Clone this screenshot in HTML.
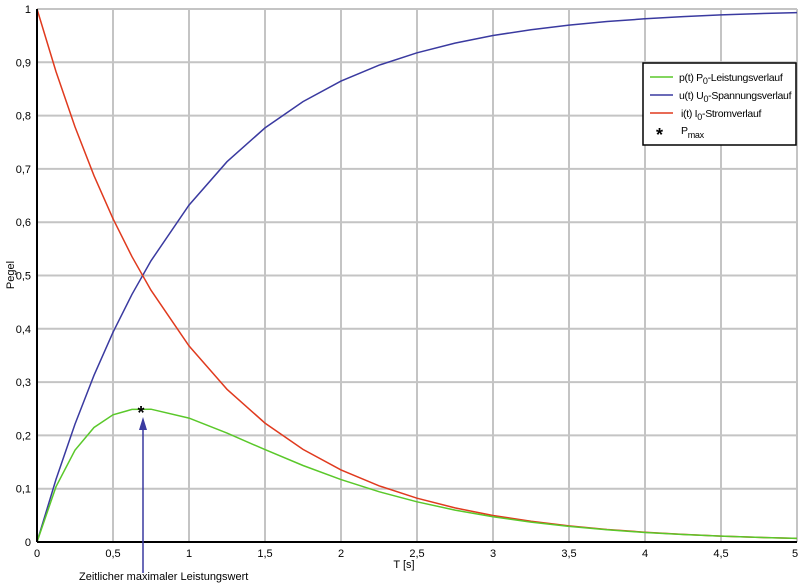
<!DOCTYPE html>
<html><head><meta charset="utf-8"><style>
html,body{margin:0;padding:0;background:#fff}
svg{display:block;font-family:"Liberation Sans",sans-serif}
</style></head><body>
<svg width="800" height="586" xmlns="http://www.w3.org/2000/svg">
<g stroke="#c4c4c4" stroke-width="2">
<line x1="113" y1="9" x2="113" y2="542"/><line x1="189" y1="9" x2="189" y2="542"/><line x1="265" y1="9" x2="265" y2="542"/><line x1="341" y1="9" x2="341" y2="542"/><line x1="417" y1="9" x2="417" y2="542"/><line x1="493" y1="9" x2="493" y2="542"/><line x1="569" y1="9" x2="569" y2="542"/><line x1="645" y1="9" x2="645" y2="542"/><line x1="721" y1="9" x2="721" y2="542"/><line x1="797" y1="9" x2="797" y2="542"/>
<line x1="37" y1="488.7" x2="797" y2="488.7"/><line x1="37" y1="435.4" x2="797" y2="435.4"/><line x1="37" y1="382.1" x2="797" y2="382.1"/><line x1="37" y1="328.8" x2="797" y2="328.8"/><line x1="37" y1="275.5" x2="797" y2="275.5"/><line x1="37" y1="222.2" x2="797" y2="222.2"/><line x1="37" y1="168.9" x2="797" y2="168.9"/><line x1="37" y1="115.6" x2="797" y2="115.6"/><line x1="37" y1="62.3" x2="797" y2="62.3"/><line x1="37" y1="9" x2="797" y2="9"/>
</g>
<g fill="none" stroke-width="1.5">
<path stroke="#3a3aa0" d="M37 542L56 479.4L75 424.1L94 375.3L113 332.3L132 294.3L151 260.8L189 205.1L227 161.7L265 127.9L303 101.6L341 81.1L379 65.2L417 52.8L455 43.1L493 35.5L531 29.7L569 25.1L607 21.5L645 18.8L683 16.6L721 14.9L759 13.6L797 12.6"/>
<path stroke="#e03a1e" d="M37 9L56 71.6L75 126.9L94 175.7L113 218.7L132 256.7L151 290.2L189 345.9L227 389.3L265 423.1L303 449.4L341 469.9L379 485.8L417 498.2L455 507.9L493 515.5L531 521.3L569 525.9L607 529.5L645 532.2L683 534.4L721 536.1L759 537.4L797 538.4"/>
<path stroke="#5ac82a" d="M37 542L56 486.7L75 450.2L94 427.5L113 414.8L132 409.4L151 409.2L189 418.1L227 433.1L265 449.6L303 465.5L341 479.6L379 491.7L417 501.8L455 510.1L493 516.8L531 522.1L569 526.4L607 529.8L645 532.5L683 534.5L721 536.1L759 537.4L797 538.4"/>
</g>
<line x1="37" y1="9" x2="37" y2="542" stroke="#000" stroke-width="2"/>
<line x1="37" y1="542" x2="797" y2="542" stroke="#000" stroke-width="2"/>
<g font-size="11" fill="#000" text-anchor="middle">
<text x="37" y="557">0</text><text x="113" y="557">0,5</text><text x="189" y="557">1</text><text x="265" y="557">1,5</text><text x="341" y="557">2</text><text x="417" y="557">2,5</text><text x="493" y="557">3</text><text x="569" y="557">3,5</text><text x="645" y="557">4</text><text x="721" y="557">4,5</text><text x="795" y="557">5</text>
</g>
<g font-size="11" fill="#000" text-anchor="end">
<text x="31" y="546">0</text><text x="31" y="492.7">0,1</text><text x="31" y="439.4">0,2</text><text x="31" y="386.1">0,3</text><text x="31" y="332.8">0,4</text><text x="31" y="279.5">0,5</text><text x="31" y="226.2">0,6</text><text x="31" y="172.9">0,7</text><text x="31" y="119.6">0,8</text><text x="31" y="66.3">0,9</text><text x="31" y="13">1</text>
</g>
<text x="14" y="275" font-size="11" transform="rotate(-90 14 275)" text-anchor="middle">Pegel</text>
<text x="404" y="568" font-size="11" text-anchor="middle">T [s]</text>
<text x="79" y="580" font-size="11">Zeitlicher maximaler Leistungswert</text>
<line x1="143" y1="573" x2="143" y2="428" stroke="#3a3aa0" stroke-width="1.5"/>
<polygon points="143,417 139,430 147,430" fill="#3a3aa0"/>
<text x="141" y="419" font-size="18" text-anchor="middle" font-weight="bold">*</text>
<rect x="643" y="63" width="153" height="82" fill="#fff" stroke="#000" stroke-width="1.5"/>
<g font-size="10.5" letter-spacing="-0.3">
<line x1="650" y1="77" x2="673" y2="77" stroke="#5ac82a" stroke-width="1.5"/>
<text x="679" y="81">p(t) P<tspan font-size="9" dy="3">0</tspan><tspan dy="-3">-Leistungsverlauf</tspan></text>
<line x1="650" y1="95" x2="673" y2="95" stroke="#3a3aa0" stroke-width="1.5"/>
<text x="679" y="99">u(t) U<tspan font-size="9" dy="3">0</tspan><tspan dy="-3">-Spannungsverlauf</tspan></text>
<line x1="650" y1="113" x2="673" y2="113" stroke="#e03a1e" stroke-width="1.5"/>
<text x="681" y="117">i(t) I<tspan font-size="9" dy="3">0</tspan><tspan dy="-3">-Stromverlauf</tspan></text>
<text x="656" y="141" font-size="18" font-weight="bold">*</text>
<text x="681" y="134">P<tspan font-size="9" dy="4">max</tspan></text>
</g>
</svg>
</body></html>
